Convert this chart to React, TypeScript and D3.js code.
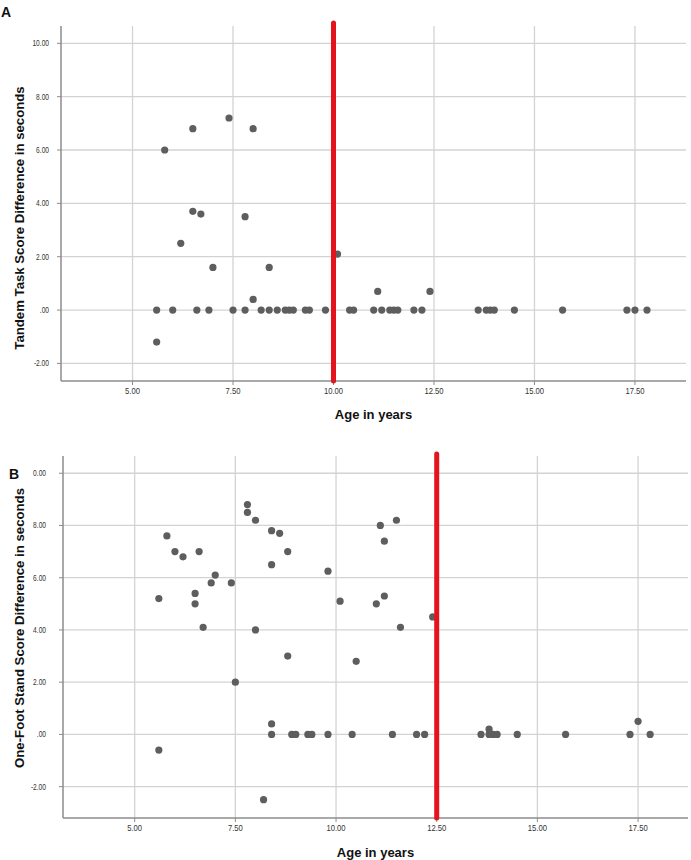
import React from "react";
import * as d3 from "d3";

// Panel A: Tandem task
const ageA = [5.6, 6.0, 6.6, 6.9, 7.5, 7.8, 8.2, 8.4, 8.6, 8.8, 8.9, 9.0, 9.3, 9.4, 9.8, 10.4, 10.5, 11.0, 11.2, 11.4, 11.5, 11.6, 12.0, 12.2, 13.6, 13.8, 13.9, 14.0, 14.5, 15.7, 17.3, 17.5, 17.8,
  5.6, 5.8, 6.2, 6.5, 6.5, 6.7, 7.0, 7.4, 7.8, 8.0, 8.0, 8.4, 10.1, 11.1, 12.4];
const diffA = [0, 0, 0, 0, 0, 0, 0, 0, 0, 0, 0, 0, 0, 0, 0, 0, 0, 0, 0, 0, 0, 0, 0, 0, 0, 0, 0, 0, 0, 0, 0, 0, 0,
  -1.2, 6.0, 2.5, 6.8, 3.7, 3.6, 1.6, 7.2, 3.5, 6.8, 0.4, 1.6, 2.1, 0.7, 0.7];

// Panel B: One-foot stand
const ageB = [8.4, 8.9, 9.0, 9.3, 9.4, 9.8, 10.4, 11.4, 12.0, 12.2, 13.6, 13.8, 13.9, 14.0, 14.5, 15.7, 17.3, 17.8,
  7.8, 7.8, 8.0, 8.4, 8.6, 5.8, 6.0, 6.2, 6.6, 8.8, 8.4, 9.8, 7.0, 6.9, 7.4, 6.5, 5.6, 6.5, 10.1, 6.7, 8.0,
  11.1, 11.5, 11.2, 11.0, 11.2, 12.4, 11.6, 8.8, 7.5, 8.4, 5.6, 8.2, 10.5, 13.8, 17.5];
const diffB = [0, 0, 0, 0, 0, 0, 0, 0, 0, 0, 0, 0, 0, 0, 0, 0, 0, 0,
  8.8, 8.5, 8.2, 7.8, 7.7, 7.6, 7.0, 6.8, 7.0, 7.0, 6.5, 6.25, 6.1, 5.8, 5.8, 5.4, 5.2, 5.0, 5.1, 4.1, 4.0,
  8.0, 8.2, 7.4, 5.0, 5.3, 4.5, 4.1, 3.0, 2.0, 0.4, -0.6, -2.5, 2.8, 0.2, 0.5];

const xTicks = [5, 7.5, 10, 12.5, 15, 17.5];
const xTickLabels = ["5.00", "7.50", "10.00", "12.50", "15.00", "17.50"];
const yTicks = [10, 8, 6, 4, 2, 0, -2];
const yTickLabelsA = ["10.00", "8.00", "6.00", "4.00", "2.00", ".00", "-2.00"];
const yTickLabelsB = ["0.00", "8.00", "6.00", "4.00", "2.00", ".00", "-2.00"];
const cutoffA = 10;
const cutoffB = 12.5;

const FONT = "'Liberation Sans', Arial, sans-serif";

type PanelProps = {
  label: string;
  labelX: number;
  labelY: number;
  left: number;
  right: number;
  top: number;
  bottom: number;
  xDomain: [number, number];
  yDomain: [number, number];
  ages: number[];
  diffs: number[];
  yLabels: string[];
  yLabelGap: number;
  yTitle: string;
  yTitleY: number;
  cutoff: number;
  redTop: number;
  xTitleY: number;
};

function Panel(p: PanelProps) {
  const x = d3.scaleLinear().domain(p.xDomain).range([p.left, p.right]);
  const y = d3.scaleLinear().domain(p.yDomain).range([p.bottom, p.top]);
  const grid = "#d3d3d3";
  const axis = "#8c8c8c";
  return (
    <g>
      {xTicks.map((t) => (
        <line key={"vx" + t} x1={x(t)} x2={x(t)} y1={p.top} y2={p.bottom} stroke={grid} strokeWidth={1.3} />
      ))}
      {yTicks.map((t) => (
        <line key={"hy" + t} x1={p.left} x2={p.right} y1={y(t)} y2={y(t)} stroke={grid} strokeWidth={1.3} />
      ))}
      {/* axes */}
      <line x1={p.left} x2={p.left} y1={p.top} y2={p.bottom} stroke={axis} strokeWidth={1.5} />
      <line x1={p.left} x2={p.right} y1={p.bottom} y2={p.bottom} stroke={axis} strokeWidth={1.5} />
      {yTicks.map((t) => (
        <line key={"ty" + t} x1={p.left - 4} x2={p.left} y1={y(t)} y2={y(t)} stroke={axis} strokeWidth={1} />
      ))}
      {xTicks.map((t) => (
        <line key={"tx" + t} x1={x(t)} x2={x(t)} y1={p.bottom} y2={p.bottom + 4} stroke={axis} strokeWidth={1} />
      ))}
      {yTicks.map((t, i) => (
        <text key={"ly" + t} transform={`translate(${p.left - p.yLabelGap},${y(t)}) scale(0.78,1)`} dy="0.35em" textAnchor="end" fontSize={8.5} fill="#333" fontFamily={FONT}>
          {p.yLabels[i]}
        </text>
      ))}
      {xTicks.map((t, i) => (
        <text key={"lx" + t} transform={`translate(${x(t)},${p.bottom + 10}) scale(0.85,1)`} dy="0.35em" textAnchor="middle" fontSize={9} fill="#333" fontFamily={FONT}>
          {xTickLabels[i]}
        </text>
      ))}
      {/* points */}
      {p.ages.map((a, i) => (
        <circle key={"p" + i} cx={x(a)} cy={y(p.diffs[i])} r={3.6} fill="#5e5e5e" />
      ))}
      {/* cutoff */}
      <line x1={x(p.cutoff)} x2={x(p.cutoff)} y1={p.redTop} y2={p.bottom} stroke="#e3141b" strokeWidth={5} strokeLinecap="round" />
      <text x={(p.left + p.right) / 2} y={p.xTitleY} dy="0.35em" textAnchor="middle" fontSize={13} fontWeight="bold" fill="#111" fontFamily={FONT}>
        Age in years
      </text>
      <text transform={`translate(19,${p.yTitleY}) rotate(-90)`} dy="0.35em" textAnchor="middle" fontSize={13.2} fontWeight="bold" fill="#111" fontFamily={FONT}>
        {p.yTitle}
      </text>
      <text x={p.labelX} y={p.labelY} dy="0.35em" fontSize={14} fontWeight="bold" fill="#111" fontFamily={FONT}>
        {p.label}
      </text>
    </g>
  );
}

export default function App() {
  return (
    <svg width={691} height={860} style={{ position: "absolute", left: 0, top: 0, background: "#fff" }}>
      <rect width={691} height={860} fill="#fff" />
      <Panel
        label="A" labelX={1} labelY={12}
        left={61} right={686} top={26} bottom={381}
        xDomain={[3.22, 18.77]} yDomain={[-2.66, 10.65]}
        ages={ageA} diffs={diffA} yLabels={yTickLabelsA} yLabelGap={12}
        yTitle="Tandem Task Score Difference in seconds" yTitleY={218}
        cutoff={cutoffA} redTop={23} xTitleY={414}
      />
      <Panel
        label="B" labelX={9} labelY={474}
        left={63} right={688} top={456} bottom={818}
        xDomain={[3.22, 18.74]} yDomain={[-3.2, 10.66]}
        ages={ageB} diffs={diffB} yLabels={yTickLabelsB} yLabelGap={17}
        yTitle="One-Foot Stand Score Difference in seconds" yTitleY={628}
        cutoff={cutoffB} redTop={454} xTitleY={852}
      />
    </svg>
  );
}
